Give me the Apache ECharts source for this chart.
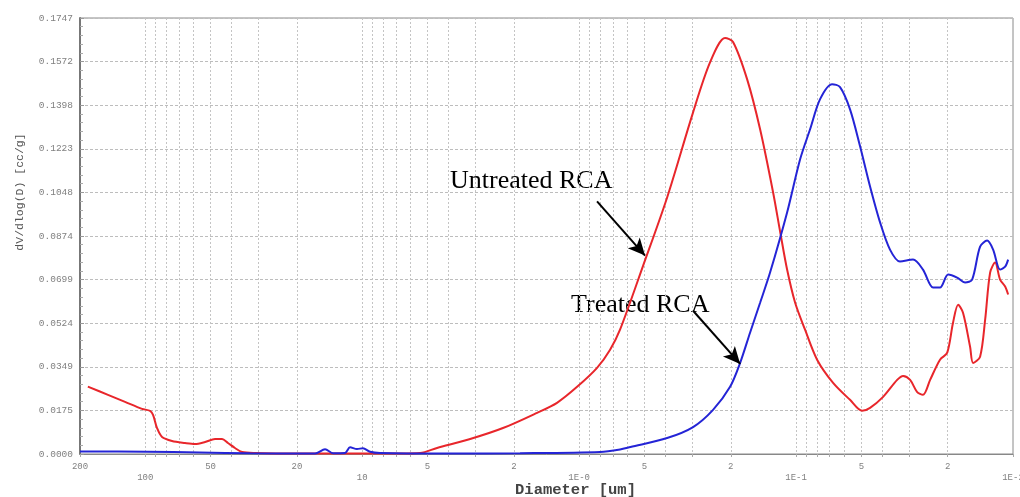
<!DOCTYPE html>
<html>
<head>
<meta charset="utf-8">
<script src="https://cdn.jsdelivr.net/npm/echarts@6/dist/echarts.min.js"></script>
<style>
  html, body { margin: 0; padding: 0; background: #fff; }
  #chart { width: 1020px; height: 497px; }
</style>
</head>
<body>
<div id="chart"></div>
<script>
// diameter [um], dV/dlog(D) [cc/g]
const untreated = [
  [184, 0.0270], [148.6, 0.0237], [124, 0.0209], [103.5, 0.0181],
  [95.1, 0.0173], [92.1, 0.0157], [88.3, 0.0104], [83.7, 0.0068], [75.3, 0.0052],
  [65.6, 0.0044], [59, 0.0040], [53, 0.0048], [47.7, 0.0060], [44.3, 0.0060],
  [41.6, 0.0044], [38.6, 0.0024], [35.8, 0.0008], [31.2, 0.0004], [19.35, 0.0002],
  [6.69, 0.0002], [5.41, 0.0004], [4.52, 0.0024], [3.18, 0.0060], [2.244, 0.0104],
  [1.563, 0.0165], [1.265, 0.0205], [1.022, 0.0269], [0.827, 0.0345], [0.72, 0.0418],
  [0.648, 0.0498], [0.507, 0.0755], [0.393, 0.1028], [0.2984, 0.1369], [0.249, 0.1570],
  [0.2125, 0.1667], [0.1952, 0.1651], [0.1682, 0.1502], [0.1465, 0.1301], [0.1276, 0.1048],
  [0.1185, 0.0892], [0.110, 0.0739], [0.101, 0.0606], [0.0909, 0.0498], [0.080, 0.0378],
  [0.0675, 0.0285], [0.0564, 0.0217], [0.0496, 0.0173], [0.0456, 0.0185], [0.0397, 0.0229],
  [0.0342, 0.0297], [0.0321, 0.0313], [0.0298, 0.0297], [0.0277, 0.0249], [0.026, 0.0237],
  [0.0241, 0.0297], [0.0217, 0.0378], [0.0201, 0.0406], [0.0189, 0.0526], [0.0179, 0.0598],
  [0.0170, 0.0566], [0.01577, 0.0430], [0.01527, 0.0365], [0.01418, 0.0390], [0.01344, 0.0538],
  [0.01275, 0.0727], [0.01209, 0.0767], [0.01147, 0.0699], [0.01087, 0.0671], [0.01053, 0.0639]
];

const treated = [
  [200, 0.0010], [98.2, 0.0009], [56, 0.0006], [32.9, 0.0003], [16.5, 0.0002],
  [14.84, 0.0019], [13.6, 0.0003], [12.0, 0.0004], [11.38, 0.0027], [10.57, 0.0020],
  [9.92, 0.0023], [9.2, 0.0009], [8.28, 0.0004], [3.94, 0.0002], [1.873, 0.0003],
  [0.801, 0.0008], [0.648, 0.0018], [0.58, 0.0028], [0.393, 0.0064], [0.2984, 0.0108],
  [0.2414, 0.0177], [0.2015, 0.0269], [0.1811, 0.0365], [0.163, 0.0486], [0.1465, 0.0606],
  [0.1318, 0.0727], [0.110, 0.0968], [0.0958, 0.1181], [0.0862, 0.1301],
  [0.0775, 0.1422], [0.0682, 0.1482], [0.0627, 0.1470], [0.0564, 0.1381], [0.0507, 0.1233],
  [0.0456, 0.1072], [0.041, 0.0928], [0.0369, 0.0819], [0.0332, 0.0771], [0.0289, 0.0779],
  [0.026, 0.0739], [0.02335, 0.0667], [0.0217, 0.0667], [0.0199, 0.0719], [0.0181, 0.0707],
  [0.01663, 0.0687], [0.01543, 0.0699], [0.01418, 0.0831], [0.01316, 0.0855], [0.01235, 0.0819],
  [0.01147, 0.0739], [0.01087, 0.0751], [0.01053, 0.0779]
];

const xLabelValues = [200, 100, 50, 20, 10, 5, 2, 1, 0.5, 0.2, 0.1, 0.05, 0.02, 0.01];
const xLabelTexts = ['200', '100', '50', '20', '10', '5', '2', '1E-0', '5', '2', '1E-1', '5', '2', '1E-2'];
const xLowerRow = ['100', '10', '1E-0', '1E-1', '1E-2'];
const xGridValues = [];
[0.01, 0.1, 1, 10, 100].forEach(function (dec) {
  for (let m = 1; m <= 9; m++) {
    const v = +(dec * m).toPrecision(3);
    if (v <= 200) xGridValues.push(v);
  }
});
xGridValues.push(200);

const yMax = 0.1747;
const yStep = 0.01747;
const yLabels = ['0.0000', '0.0175', '0.0349', '0.0524', '0.0699', '0.0874',
  '0.1048', '0.1223', '0.1398', '0.1572', '0.1747'];

const chart = echarts.init(document.getElementById('chart'));

function labelFor(v) {
  let best = 0;
  xLabelValues.forEach(function (lv, i) {
    if (Math.abs(Math.log10(lv) - Math.log10(v)) < Math.abs(Math.log10(xLabelValues[best]) - Math.log10(v))) best = i;
  });
  const t = xLabelTexts[best];
  return xLowerRow.indexOf(t) >= 0 ? '\n' + t : t;
}

const arrowLine = {
  silent: true,
  symbol: ['none', 'arrow'],
  symbolSize: [12, 17],
  label: { show: false },
  lineStyle: { color: '#000', width: 2, type: 'solid' }
};

chart.setOption({
  animation: false,
  backgroundColor: '#fff',
  grid: {
    left: 80, right: 7, top: 18, bottom: 43,
    outerBoundsMode: 'none', containLabel: false,
    show: true, borderColor: '#8a8a8a', borderWidth: 1
  },
  xAxis: {
    type: 'log',
    inverse: true,
    min: 0.01,
    max: 200,
    name: 'Diameter [um]',
    nameLocation: 'middle',
    nameGap: 28,
    nameMoveOverlap: false,
    nameTextStyle: {
      fontFamily: 'Liberation Mono', fontSize: 15.5, color: '#444', fontWeight: 'bold',
      padding: [0, 0, 0, 58]
    },
    axisLine: { lineStyle: { color: '#888', width: 1 } },
    axisTick: { show: true, length: 3, customValues: xGridValues, lineStyle: { color: '#aaa' } },
    axisLabel: {
      customValues: xLabelValues,
      fontFamily: 'Liberation Mono',
      fontSize: 9,
      color: '#808080',
      lineHeight: 11,
      margin: 7,
      formatter: function (v) { return labelFor(v); }
    },
    splitLine: { show: true, lineStyle: { color: '#c4c4c4', type: [2, 2], width: 1 } }
  },
  yAxis: {
    type: 'value',
    min: 0,
    max: yMax,
    interval: yStep,
    name: 'dV/dlog(D) [cc/g]',
    nameLocation: 'middle',
    nameGap: 54,
    nameMoveOverlap: false,
    nameTextStyle: {
      fontFamily: 'Liberation Mono', fontSize: 11.5, color: '#555',
      padding: [0, 0, 0, 88]
    },
    axisLine: { show: true, lineStyle: { color: '#777', width: 2 } },
    axisTick: { show: true, inside: true, length: 4, lineStyle: { color: '#999' } },
    minorTick: { show: true, splitNumber: 5, length: 3, lineStyle: { color: '#aaa' } },
    axisLabel: {
      fontFamily: 'Liberation Mono',
      fontSize: 9.5,
      color: '#808080',
      margin: 7,
      formatter: function (v) { return yLabels[Math.round(v / yStep)]; }
    },
    splitLine: { show: true, lineStyle: { color: '#bdbdbd', type: [3, 2], width: 1 } }
  },
  series: [
    {
      name: 'Untreated RCA',
      type: 'line',
      data: untreated,
      smooth: 0.3,
      showSymbol: false,
      lineStyle: { color: '#e8262b', width: 2 },
      markLine: Object.assign({}, arrowLine, {
        data: [[{ coord: [0.827, 0.1012] }, { coord: [0.497, 0.0795] }]]
      })
    },
    {
      name: 'Treated RCA',
      type: 'line',
      data: treated,
      smooth: 0.3,
      showSymbol: false,
      lineStyle: { color: '#2424d6', width: 2 },
      markLine: Object.assign({}, arrowLine, {
        data: [[{ coord: [0.2984, 0.0574] }, { coord: [0.181, 0.0361] }]]
      })
    }
  ],
  graphic: [
    { type: 'text', left: 450, top: 168, style: { text: 'Untreated RCA', font: '26px "Liberation Serif"', fill: '#000' } },
    { type: 'text', left: 571, top: 292, style: { text: 'Treated RCA', font: '26px "Liberation Serif"', fill: '#000' } }
  ]
});
</script>
</body>
</html>
